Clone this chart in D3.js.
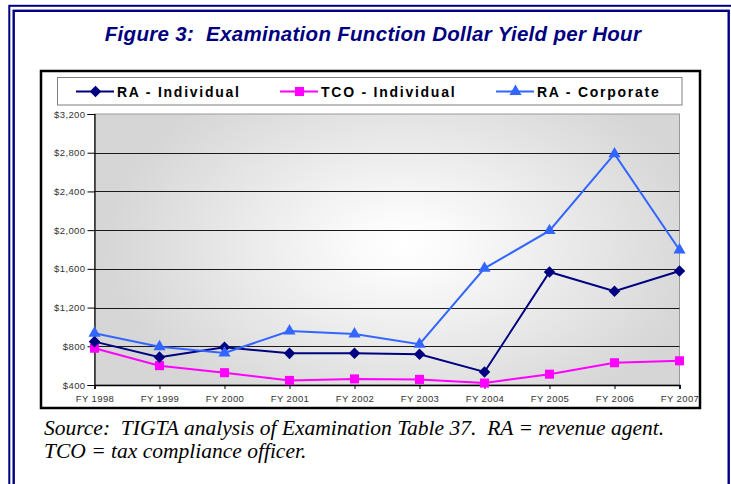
<!DOCTYPE html>
<html><head><meta charset="utf-8">
<script src="https://cdn.jsdelivr.net/npm/d3@7"></script>
<style>html,body{margin:0;padding:0;background:#fff;}svg{display:block;}</style>
</head><body>
<script>
const years = ["FY 1998","FY 1999","FY 2000","FY 2001","FY 2002","FY 2003","FY 2004","FY 2005","FY 2006","FY 2007"];
const raIndividual = [848, 688, 790, 727, 728, 718, 535, 1568, 1368, 1578];
const tcoIndividual = [780, 600, 527, 447, 463, 458, 420, 512, 630, 650];
const raCorporate = [935, 795, 730, 958, 927, 821, 1605, 1995, 2788, 1795];
const yTicks = [400, 800, 1200, 1600, 2000, 2400, 2800, 3200];
const seriesNames = ["RA - Individual", "TCO - Individual", "RA - Corporate"];

const W = 731, H = 484;
const svg = d3.select("body").append("svg").attr("width", W).attr("height", H);
const navy = "#000080";

// page frame (double border)
svg.append("rect").attr("x", 9.3).attr("y", 5.8).attr("width", 800).attr("height", 800)
  .attr("fill", "none").attr("stroke", navy).attr("stroke-width", 2);
svg.append("rect").attr("x", 13.7).attr("y", 10.8).attr("width", 715).attr("height", 800)
  .attr("fill", "none").attr("stroke", navy).attr("stroke-width", 2.4);

// title
svg.append("text").attr("x", 373).attr("y", 40.5).attr("text-anchor", "middle")
  .attr("font-family", "Liberation Sans, Arial, sans-serif").attr("font-weight", "bold")
  .attr("font-style", "italic").attr("font-size", 20.5).attr("fill", navy)
  .style("letter-spacing", "0.3px").style("white-space", "pre")
  .text("Figure 3:  Examination Function Dollar Yield per Hour");

// chart box
svg.append("rect").attr("x", 41).attr("y", 71).attr("width", 659).attr("height", 337)
  .attr("fill", "#fff").attr("stroke", "#000").attr("stroke-width", 2.5);

// plot area
const px0 = 94.5, px1 = 679.5, py0 = 114, py1 = 385;
const x = d3.scalePoint().domain(years).range([px0, px1]);
const y = d3.scaleLinear().domain([400, 3200]).range([py1, py0]);

const defs = svg.append("defs");
const grad = defs.append("radialGradient").attr("id", "bg")
  .attr("gradientUnits", "userSpaceOnUse")
  .attr("cx", 405).attr("cy", 245).attr("r", 300)
  .attr("gradientTransform", "translate(405,245) scale(1,0.62) translate(-405,-245)");
grad.append("stop").attr("offset", "0%").attr("stop-color", "#ffffff");
grad.append("stop").attr("offset", "15%").attr("stop-color", "#fbfbfb");
grad.append("stop").attr("offset", "100%").attr("stop-color", "#d6d6d6");

svg.append("rect").attr("x", px0).attr("y", py0).attr("width", px1 - px0).attr("height", py1 - py0)
  .attr("fill", "url(#bg)").attr("stroke", "#9a9a9a").attr("stroke-width", 1);

// gridlines
svg.append("g").selectAll("line").data(yTicks.filter(d => d > 400 && d < 3200)).join("line")
  .attr("x1", px0).attr("x2", px1)
  .attr("y1", d => Math.round(y(d)) + 0.5).attr("y2", d => Math.round(y(d)) + 0.5)
  .attr("stroke", "#1a1a1a").attr("stroke-width", 1);

// axes
const yAxis = d3.axisLeft(y).tickValues(yTicks).tickSize(7).tickPadding(2)
  .tickFormat(d => "$" + d3.format(",")(d));
const gy = svg.append("g").attr("transform", `translate(${px0},0)`).call(yAxis);
gy.select(".domain").attr("stroke", "#000").attr("stroke-width", 1.2);
gy.selectAll(".tick line").attr("stroke", "#000");
gy.selectAll(".tick text").attr("font-family", "Liberation Sans, Arial, sans-serif")
  .attr("font-size", 9.5).attr("fill", "#333").style("letter-spacing", "0.4px");

const xAxis = d3.axisBottom(x).tickSize(4).tickPadding(6);
const gx = svg.append("g").attr("transform", `translate(0,${py1})`).call(xAxis);
gx.select(".domain").attr("stroke", "#000").attr("stroke-width", 1.5);
gx.selectAll(".tick line").attr("stroke", "#000");
gx.selectAll(".tick text").attr("font-family", "Liberation Sans, Arial, sans-serif")
  .attr("font-size", 9.5).attr("fill", "#333").style("letter-spacing", "0.4px");

// series
const series = [
  { name: seriesNames[0], values: raIndividual, color: "#000080", marker: d3.symbolDiamond2, size: 85 },
  { name: seriesNames[1], values: tcoIndividual, color: "#ff00ff", marker: d3.symbolSquare2, size: 105 },
  { name: seriesNames[2], values: raCorporate, color: "#3366ff", marker: d3.symbolTriangle2, size: 105 }
];
const line = d3.line().x((d, i) => x(years[i])).y(d => y(d));
const drawOrder = [1, 0, 2];
drawOrder.forEach(k => {
  const s = series[k];
  svg.append("path").datum(s.values).attr("d", line)
    .attr("fill", "none").attr("stroke", s.color).attr("stroke-width", 2);
});
drawOrder.forEach(k => {
  const s = series[k];
  svg.append("g").selectAll("path").data(s.values).join("path")
    .attr("transform", (d, i) => `translate(${x(years[i])},${y(d)})`)
    .attr("d", d3.symbol(s.marker, s.size)).attr("fill", s.color);
});

// legend
svg.append("rect").attr("x", 57.5).attr("y", 77.5).attr("width", 624.5).attr("height", 27.5)
  .attr("fill", "#fff").attr("stroke", "#7f7f7f").attr("stroke-width", 1);
const legX = [76, 280, 496];
series.forEach((s, i) => {
  const g = svg.append("g").attr("transform", `translate(${legX[i]},91.5)`);
  g.append("line").attr("x1", 0).attr("x2", 38).attr("stroke", s.color).attr("stroke-width", 2);
  g.append("path").attr("transform", "translate(19.5,0)").attr("d", d3.symbol(s.marker, s.size)).attr("fill", s.color);
  g.append("text").attr("x", 41).attr("y", 5.2)
    .attr("font-family", "Liberation Sans, Arial, sans-serif").attr("font-weight", "bold")
    .attr("font-size", 14).attr("fill", "#000").style("letter-spacing", "1.75px")
    .text(s.name);
});

// source note
const note = svg.append("text").attr("font-family", "Liberation Serif, Times New Roman, serif")
  .attr("font-style", "italic").attr("font-size", 21.5).attr("fill", "#000")
  .style("white-space", "pre");
note.append("tspan").attr("x", 44).attr("y", 435).text("Source:  TIGTA analysis of Examination Table 37.  RA = revenue agent.");
note.append("tspan").attr("x", 44).attr("y", 458).text("TCO = tax compliance officer.");
</script>
</body></html>
